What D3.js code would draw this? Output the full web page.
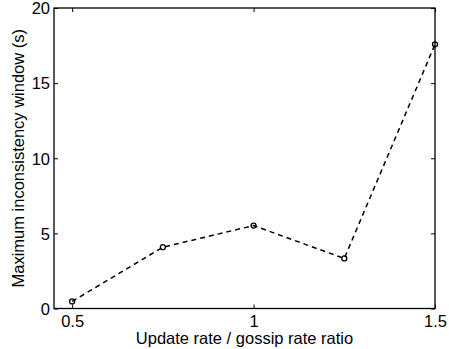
<!DOCTYPE html>
<html><head><meta charset="utf-8">
<script src="https://cdn.jsdelivr.net/npm/d3@7"></script>
<style>body{margin:0;background:#fff}svg{display:block}text{font-family:"Liberation Sans",Arial,sans-serif;fill:#000}</style>
</head><body><div id="c"></div>
<script>
const xValues = [0.5, 0.75, 1, 1.25, 1.5];
const yValues = [0.47, 4.08, 5.52, 3.33, 17.58];
const xTicks = [0.5, 1, 1.5];
const yTicks = [0, 5, 10, 15, 20];
const xLabel = "Update rate / gossip rate ratio";
const yLabel = "Maximum inconsistency window (s)";

const W = 449, H = 349;
const FS = 16.5;
const m = {left: 54, top: 8, right: 449 - 435, bottom: 349 - 308.5};
const svg = d3.select("#c").append("svg").attr("width", W).attr("height", H);
const x = d3.scaleLinear().domain([0.45, 1.5]).range([m.left, W - m.right]);
const y = d3.scaleLinear().domain([0, 20]).range([H - m.bottom, m.top]);
const g = svg.append("g");
const tl = 4;

const axB = g.append("g").attr("transform", `translate(0,${y(0)})`)
  .call(d3.axisBottom(x).tickValues(xTicks).tickSizeInner(-tl).tickSizeOuter(0).tickPadding(7).tickFormat(d3.format("")));
const axT = g.append("g").attr("transform", `translate(0,${y(20)})`)
  .call(d3.axisTop(x).tickValues(xTicks).tickSizeInner(-tl).tickSizeOuter(0).tickFormat(""));
const axL = g.append("g").attr("transform", `translate(${x(0.45)},0)`)
  .call(d3.axisLeft(y).tickValues(yTicks).tickSizeInner(-tl).tickSizeOuter(0).tickPadding(4).tickFormat(d3.format("")));
const axR = g.append("g").attr("transform", `translate(${x(1.5)},0)`)
  .call(d3.axisRight(y).tickValues(yTicks).tickSizeInner(-tl).tickSizeOuter(0).tickFormat(""));
[axB, axT, axL, axR].forEach(a => {
  a.select(".domain").remove();
  a.selectAll("line").attr("stroke", "#000").attr("stroke-width", 1);
  a.selectAll("text").attr("font-size", FS).attr("font-family", '"Liberation Sans",Arial,sans-serif').attr("fill", "#000");
});
axL.selectAll("text").attr("dy", "0.35em");

g.append("rect").attr("x", x(0.45)).attr("y", y(20)).attr("width", x(1.5) - x(0.45)).attr("height", y(0) - y(20))
  .attr("fill", "none").attr("stroke", "#000").attr("stroke-width", 1.3);

const pts = xValues.map((v, i) => [v, yValues[i]]);
g.append("path").datum(pts).attr("fill", "none").attr("stroke", "#000").attr("stroke-width", 1.5)
  .attr("stroke-dasharray", "5,4")
  .attr("d", d3.line().x(d => x(d[0])).y(d => y(d[1])));
g.selectAll("circle.pt").data(pts).join("circle").attr("class", "pt")
  .attr("cx", d => x(d[0])).attr("cy", d => y(d[1])).attr("r", 2.5)
  .attr("fill", "none").attr("stroke", "#000").attr("stroke-width", 1.3);

svg.append("text").attr("x", (x(0.45) + x(1.5)) / 2).attr("y", 344).attr("text-anchor", "middle")
  .attr("font-size", FS).text(xLabel);
svg.append("text").attr("transform", `translate(24,${(y(0) + y(20)) / 2}) rotate(-90)`).attr("text-anchor", "middle")
  .attr("font-size", FS).text(yLabel);
</script></body></html>
